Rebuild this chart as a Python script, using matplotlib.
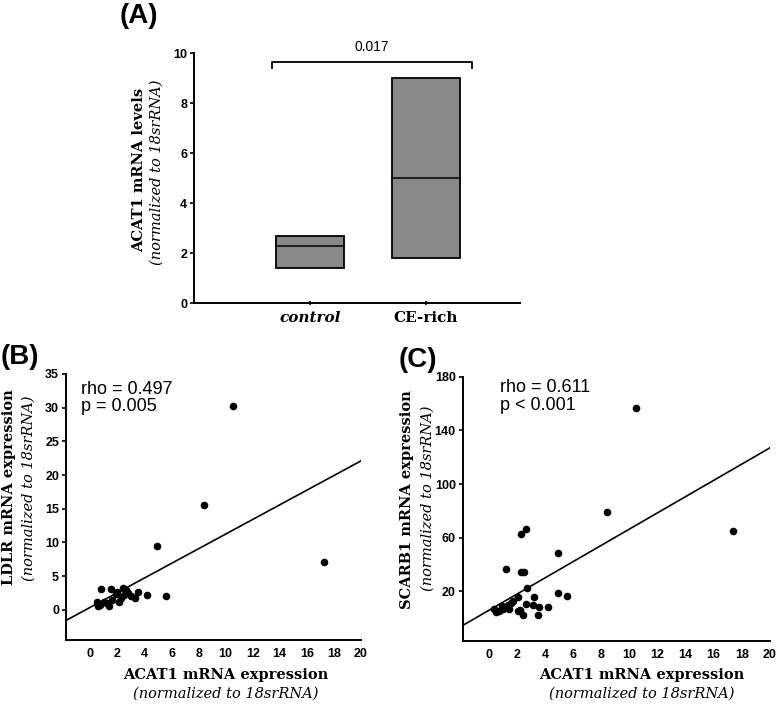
import matplotlib
matplotlib.use("Agg")
import matplotlib.pyplot as plt
import numpy as np

# ---------------- data ----------------
# Panel A: floating box (min, median, max)
groups = ["control", "CE-rich"]
box_low = [1.4, 1.8]
box_med = [2.3, 5.0]
box_high = [2.7, 9.0]
p_value_A = "0.017"

# Panel B: ACAT1 vs LDLR
b_x = [10.55, 8.4, 4.95, 17.3, 5.6, 4.2, 0.75, 1.5, 2.4, 2.0, 2.8, 3.5, 3.3,
       0.5, 0.7, 1.2, 1.4, 2.1, 2.3, 2.6, 1.0, 0.6, 2.5, 3.0, 1.9, 1.6]
b_y = [30.3, 15.6, 9.4, 7.1, 2.0, 2.2, 3.0, 3.1, 3.2, 2.7, 2.5, 2.7, 1.8,
       1.2, 0.75, 1.0, 0.5, 1.1, 1.7, 2.9, 1.2, 0.6, 2.2, 2.0, 2.4, 1.5]
b_fit = [0.36, 1.087]  # intercept, slope
b_stats = ["rho = 0.497", "p = 0.005"]

# Panel C: ACAT1 vs SCARB1
c_x = [10.5, 8.4, 4.95, 17.35, 2.65, 2.3, 1.2, 2.3, 2.5, 2.75, 4.95, 5.6, 3.2,
       2.05, 2.65, 3.55, 4.22, 3.53, 2.45, 2.1, 1.45, 0.55, 0.95, 1.6, 1.75,
       0.35, 2.2, 1.0, 1.4, 0.7, 3.15]
c_y = [156.5, 79, 48.5, 65, 66.6, 62.4, 36.6, 34.6, 34.6, 22.2, 18.5, 16.8, 16,
       15.5, 10.8, 8.3, 8.0, 2.4, 2.7, 5.3, 6.5, 4.6, 9, 11, 12.5,
       6.5, 6.2, 7, 9.5, 5, 10]
c_fit = [5.8, 6.06]
c_stats = ["rho = 0.611", "p < 0.001"]

x_ticks = list(range(0, 21, 2))
b_yticks = [0, 5, 10, 15, 20, 25, 30, 35]
c_yticks = [20, 60, 100, 140, 180]
a_yticks = [0, 2, 4, 6, 8, 10]

# ---------------- styling ----------------
W, H = 778, 705
fig = plt.figure(figsize=(W / 100, H / 100), dpi=100)
SANS = "Liberation Sans"
SERIF = "DejaVu Serif"
tick_fs = 9
lab_fs = 10.5
lw = 1.4

def fx(px):
    return px / W

def fy(py):
    return 1 - py / H

def style(ax):
    ax.spines["top"].set_visible(False)
    ax.spines["right"].set_visible(False)
    for s in ("left", "bottom"):
        ax.spines[s].set_linewidth(lw)
    for lab in ax.get_xticklabels() + ax.get_yticklabels():
        lab.set_fontfamily(SANS)
        lab.set_fontweight("bold")
        lab.set_fontsize(tick_fs)

# ---------------- Panel A ----------------
axA = fig.add_axes([fx(194), fy(303), fx(520) - fx(194), fy(53) - fy(303)])
pos = np.arange(len(groups))
width = 0.59
for i in range(len(groups)):
    axA.bar(pos[i], box_high[i] - box_low[i], bottom=box_low[i], width=width,
            color="#898989", edgecolor="black", linewidth=1.3, zorder=2)
    axA.plot([pos[i] - width / 2, pos[i] + width / 2], [box_med[i]] * 2,
             color="black", lw=1.1, zorder=3)
axA.set_xlim(-1.0, 1.81)
axA.set_ylim(0, 10)
axA.set_yticks(a_yticks)
axA.set_xticks(pos)
axA.set_xticklabels(groups)
style(axA)
axA.tick_params(axis="y", length=3, width=1.2, pad=2)
axA.tick_params(axis="x", length=3, width=1.2, direction="inout", pad=4)
xl = axA.get_xticklabels()
xl[0].set_fontfamily(SERIF); xl[0].set_fontstyle("italic"); xl[0].set_fontsize(11)
xl[1].set_fontfamily(SERIF); xl[1].set_fontsize(11)
# significance bracket
bx0, bx1, by0, by1 = -0.33, 1.40, 9.42, 9.65
axA.plot([bx0, bx0, bx1, bx1], [by0, by1, by1, by0], color="black", lw=1.3,
         clip_on=False)
axA.text((bx0 + bx1) / 2, 9.95, p_value_A, ha="center", va="bottom",
         fontfamily=SANS, fontsize=10)
fig.text(fx(139), fy(170), "ACAT1 mRNA levels", rotation=90, ha="center",
         va="center", fontfamily=SERIF, fontweight="bold", fontsize=lab_fs)
fig.text(fx(157), fy(172), "(normalized to 18srRNA)", rotation=90,
         ha="center", va="center", fontfamily=SERIF, fontstyle="italic",
         fontsize=lab_fs)
fig.text(fx(139), fy(16), "(A)", ha="center", va="center", fontfamily=SANS,
         fontweight="bold", fontsize=20)

# ---------------- Panel B ----------------
axB = fig.add_axes([fx(66), fy(640), fx(361) - fx(66), fy(374) - fy(640)])
axB.scatter(b_x, b_y, s=20, color="black", zorder=3)
xs = np.array([-1.8, 20])
axB.plot(xs, b_fit[0] + b_fit[1] * xs, color="black", lw=1.2)
axB.set_xlim(-1.8, 20)
axB.set_ylim(-4.5, 35)
axB.set_xticks(x_ticks)
axB.set_yticks(b_yticks)
style(axB)
axB.tick_params(axis="x", length=0, pad=6)
axB.tick_params(axis="y", length=3, width=1.2, pad=2)
axB.text(0.05, 0.975, b_stats[0] + "\n" + b_stats[1], transform=axB.transAxes,
         ha="left", va="top", fontfamily=SANS, fontsize=13, linespacing=1.05)
fig.text(fx(9), fy(487), "LDLR mRNA expression", rotation=90, ha="center",
         va="center", fontfamily=SERIF, fontweight="bold", fontsize=lab_fs)
fig.text(fx(29), fy(488), "(normalized to 18srRNA)", rotation=90,
         ha="center", va="center", fontfamily=SERIF, fontstyle="italic",
         fontsize=lab_fs)
fig.text(fx(226), fy(675), "ACAT1 mRNA expression", ha="center", va="center",
         fontfamily=SERIF, fontweight="bold", fontsize=lab_fs)
fig.text(fx(226), fy(694), "(normalized to 18srRNA)", ha="center",
         va="center", fontfamily=SERIF, fontstyle="italic", fontsize=lab_fs)
fig.text(fx(20), fy(357), "(B)", ha="center", va="center", fontfamily=SANS,
         fontweight="bold", fontsize=20)

# ---------------- Panel C ----------------
axC = fig.add_axes([fx(462.7), fy(641), fx(770) - fx(462.7), fy(376.7) - fy(641)])
axC.scatter(c_x, c_y, s=20, color="black", zorder=3)
xs = np.array([-1.85, 20])
axC.plot(xs, c_fit[0] + c_fit[1] * xs, color="black", lw=1.2)
axC.set_xlim(-1.85, 20)
axC.set_ylim(-17, 180)
axC.set_xticks(x_ticks)
axC.set_yticks(c_yticks)
style(axC)
axC.tick_params(axis="x", length=0, pad=6)
axC.tick_params(axis="y", length=3, width=1.2, pad=2)
axC.text(0.12, 0.99, c_stats[0] + "\n" + c_stats[1], transform=axC.transAxes,
         ha="left", va="top", fontfamily=SANS, fontsize=13, linespacing=1.05)
fig.text(fx(407), fy(500), "SCARB1 mRNA expression", rotation=90,
         ha="center", va="center", fontfamily=SERIF, fontweight="bold",
         fontsize=lab_fs)
fig.text(fx(428), fy(498), "(normalized to 18srRNA)", rotation=90,
         ha="center", va="center", fontfamily=SERIF, fontstyle="italic",
         fontsize=lab_fs)
fig.text(fx(642), fy(675), "ACAT1 mRNA expression", ha="center", va="center",
         fontfamily=SERIF, fontweight="bold", fontsize=lab_fs)
fig.text(fx(642), fy(694), "(normalized to 18srRNA)", ha="center",
         va="center", fontfamily=SERIF, fontstyle="italic", fontsize=lab_fs)
fig.text(fx(418), fy(360), "(C)", ha="center", va="center", fontfamily=SANS,
         fontweight="bold", fontsize=20)

fig.savefig("out.png", dpi=100)
